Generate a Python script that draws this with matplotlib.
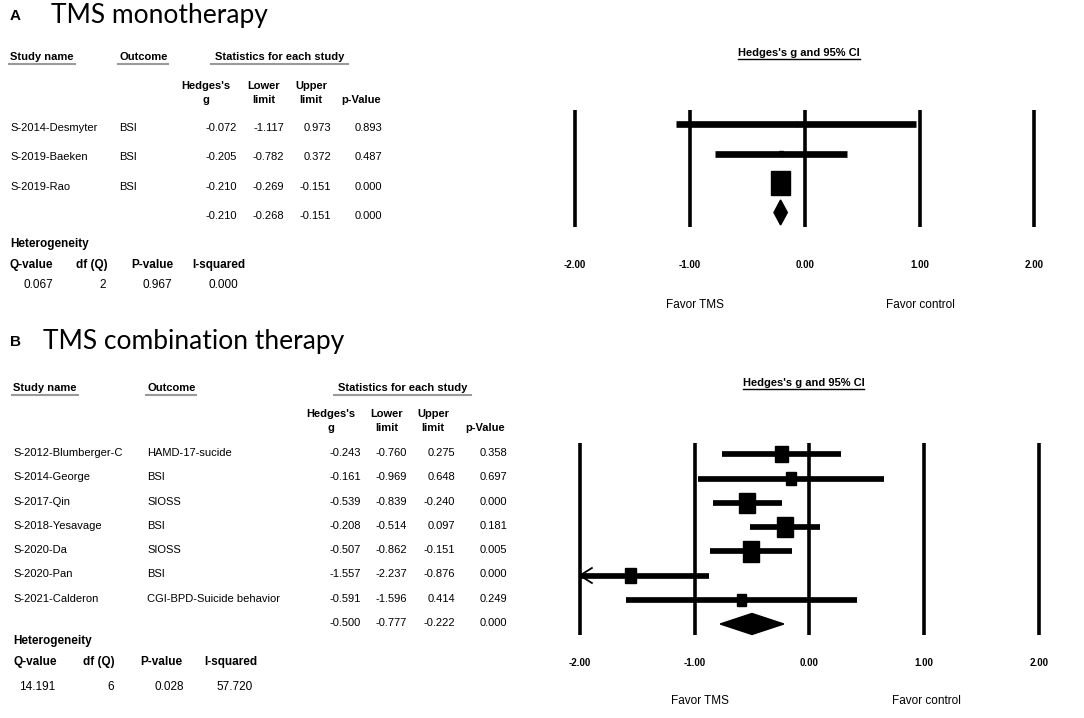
import matplotlib
matplotlib.use("Agg")
import matplotlib.pyplot as plt
from matplotlib.lines import Line2D
from matplotlib.patches import Rectangle, Polygon

plt.rcParams['font.family'] = ['Liberation Sans', 'DejaVu Sans']

W, H = 1084, 718

# ---------------- panel A : TMS monotherapy ----------------
a_study = ["S-2014-Desmyter", "S-2019-Baeken", "S-2019-Rao"]
a_outcome = ["BSI", "BSI", "BSI"]
a_g = [-0.072, -0.205, -0.210]
a_lower = [-1.117, -0.782, -0.269]
a_upper = [0.973, 0.372, -0.151]
a_p = [0.893, 0.487, 0.000]
a_weight = [0.15, 0.2, 1.0]          # relative box size
a_pooled = [-0.210, -0.268, -0.151, 0.000]
a_het = ["0.067", "2", "0.967", "0.000"]

# ---------------- panel B : TMS combination therapy ----------------
b_study = ["S-2012-Blumberger-C", "S-2014-George", "S-2017-Qin", "S-2018-Yesavage",
           "S-2020-Da", "S-2020-Pan", "S-2021-Calderon"]
b_outcome = ["HAMD-17-sucide", "BSI", "SIOSS", "BSI", "SIOSS", "BSI",
             "CGI-BPD-Suicide behavior"]
b_g = [-0.243, -0.161, -0.539, -0.208, -0.507, -1.557, -0.591]
b_lower = [-0.760, -0.969, -0.839, -0.514, -0.862, -2.237, -1.596]
b_upper = [0.275, 0.648, -0.240, 0.097, -0.151, -0.876, 0.414]
b_p = [0.358, 0.697, 0.000, 0.181, 0.005, 0.000, 0.249]
b_weight = [0.78, 0.64, 1.0, 1.0, 1.0, 0.72, 0.58]
b_pooled = [-0.500, -0.777, -0.222, 0.000]
b_het = ["14.191", "6", "0.028", "57.720"]

ticks = [-2, -1, 0, 1, 2]
col_heads = [("Hedges's", "g"), ("Lower", "limit"), ("Upper", "limit"), ("", "p-Value")]
het_heads = ["Q-value", "df (Q)", "P-value", "I-squared"]

fig = plt.figure(figsize=(W / 100, H / 100), dpi=100)
renderer = fig.canvas.get_renderer()


def ftext(x, y, s, **kw):
    kw.setdefault('va', 'center')
    kw.setdefault('fontsize', 8)
    return fig.text(x / W, 1 - y / H, s, **kw)


def underline(t, pad=1, gap=2, color='#9a9a9a', lw=1.5):
    bb = t.get_window_extent(renderer)
    x0, x1 = (bb.x0 - pad) / W, (bb.x1 + pad) / W
    y = (bb.y0 - gap) / H
    fig.add_artist(Line2D([x0, x1], [y, y], color=color, lw=lw))


def table(L, study, outcome, g, lower, upper, p, pooled, het):
    ftext(L['lab'][0], L['lab'][1], L['label'], fontsize=11, fontweight='bold')
    ftext(L['title'][0], L['title'][1], L['name'], fontsize=19, family=['Lato', 'DejaVu Sans'])
    hy = L['head_y']
    for x, s, pad in [(L['study_x'], "Study name", 1), (L['out_x'], "Outcome", 1),
                      (L['stat_x'], "Statistics for each study", 4)]:
        t = ftext(x, hy, s, fontweight='bold')
        underline(t, pad=pad)
    for cx, (l1, l2) in zip(L['col_c'], col_heads):
        ftext(cx, L['ch_y'][0], l1, ha='center', fontweight='bold')
        ftext(cx, L['ch_y'][1], l2, ha='center', fontweight='bold')
    rows = list(zip(study, outcome, g, lower, upper, p))
    rows.append(("", "") + tuple(pooled))
    for i, (s, o, *vals) in enumerate(rows):
        y = L['row0'] + i * L['row_dy']
        ftext(L['study_x'], y, s)
        ftext(L['out_x'], y, o)
        for rx, v in zip(L['col_r'], vals):
            ftext(rx, y, f"{v:.3f}", ha='right')
    ftext(L['study_x'], L['het_y'][0], "Heterogeneity", fontsize=8.5, fontweight='bold')
    for hx, s in zip(L['het_x'], het_heads):
        ftext(hx, L['het_y'][1], s, fontsize=8.5, fontweight='bold')
    for vx, s in zip(L['het_v'], het):
        ftext(vx, L['het_y'][2], s, ha='center', fontsize=8.5)


def forest(F, g, lower, upper, weight, pooled):
    x0, sx, y0, sy = F['x0'], F['sx'], F['y0'], F['sy']
    top, bot = F['band']
    ax = fig.add_axes([540 / W, 1 - bot / H, 544 / W, (bot - top) / H])
    ax.set_xlim((540 - x0) / sx, (1084 - x0) / sx)
    ax.set_ylim((bot - y0) / sy, (top - y0) / sy)
    ax.axis('off')
    vt, vb = (F['vline'][0] - y0) / sy, (F['vline'][1] - y0) / sy
    for t in ticks:
        ax.plot([t, t], [vt, vb], color='black', lw=2.6, solid_capstyle='butt')
        ax.text(t, (F['tick_y'] - y0) / sy, f"{t:.2f}", ha='center', va='center',
                fontsize=7, fontweight='bold')
    for i, (gi, lo, up, w) in enumerate(zip(g, lower, upper, weight)):
        left = max(lo, ticks[0])
        ax.plot([left, up], [i, i], color='black', lw=F['bar_lw'], solid_capstyle='butt')
        bw, bh = F['box'][0] * w / sx, F['box'][1] * w / sy
        ax.add_patch(Rectangle((gi - bw / 2, i - bh / 2), bw, bh, color='black'))
        if lo < ticks[0]:
            dx, dy = 12 / sx, 7.5 / sy
            ax.plot([left + dx, left, left + dx], [i - dy, i, i + dy], color='black', lw=1.3)
    n = len(g)
    pg, plo, pup = pooled[0], pooled[1], pooled[2]
    hh = F['diam_h'] / sy / 2
    ax.add_patch(Polygon([(plo, n), (pg, n - hh), (pup, n), (pg, n + hh)],
                         closed=True, color='black'))
    t = ax.text(F['title_x'], (F['title_y'] - y0) / sy, "Hedges's g and 95% CI",
                ha='center', va='center', fontsize=8, fontweight='bold')
    underline(t, pad=0, gap=1, color='black', lw=1)
    fy = (F['favor_y'] - y0) / sy
    ax.text(F['favor_x'][0], fy, "Favor TMS", ha='center', va='center', fontsize=8.5)
    ax.text(F['favor_x'][1], fy, "Favor control", ha='center', va='center', fontsize=8.5)


layout_a = dict(label="A", name="TMS monotherapy", lab=(10, 16), title=(51, 16),
                head_y=57, study_x=10, out_x=119, stat_x=215,
                col_c=[206, 264, 311, 361], ch_y=(86, 100), col_r=[237, 284, 331, 382],
                row0=128, row_dy=29.3, het_y=(244, 265, 285),
                het_x=[10, 76, 131, 192], het_v=[38, 103, 157, 223])
layout_b = dict(label="B", name="TMS combination therapy", lab=(10, 342), title=(43, 342),
                head_y=388, study_x=13, out_x=147, stat_x=338,
                col_c=[331, 387, 433, 485], ch_y=(414, 428), col_r=[361, 407, 455, 507],
                row0=453.3, row_dy=24.2, het_y=(641, 662, 687),
                het_x=[13, 83, 140, 204], het_v=[37.5, 111, 169, 235])

forest_a = dict(x0=804.7, sx=114.8, y0=124.3, sy=29.4, band=(0, 320), vline=(110, 227),
                tick_y=265, favor_y=305, favor_x=(-0.96, 1.01), title_x=-0.05, title_y=53,
                box=(19.3, 24.3), diam_h=25, bar_lw=4.8)
forest_b = dict(x0=809.3, sx=114.7, y0=454.3, sy=24.24, band=(320, 718), vline=(443, 635),
                tick_y=663, favor_y=701, favor_x=(-0.95, 1.02), title_x=-0.05, title_y=383,
                box=(16, 20.5), diam_h=21, bar_lw=4.1)

table(layout_a, a_study, a_outcome, a_g, a_lower, a_upper, a_p, a_pooled, a_het)
table(layout_b, b_study, b_outcome, b_g, b_lower, b_upper, b_p, b_pooled, b_het)
forest(forest_a, a_g, a_lower, a_upper, a_weight, a_pooled)
forest(forest_b, b_g, b_lower, b_upper, b_weight, b_pooled)

fig.savefig("out.png", dpi=100)
